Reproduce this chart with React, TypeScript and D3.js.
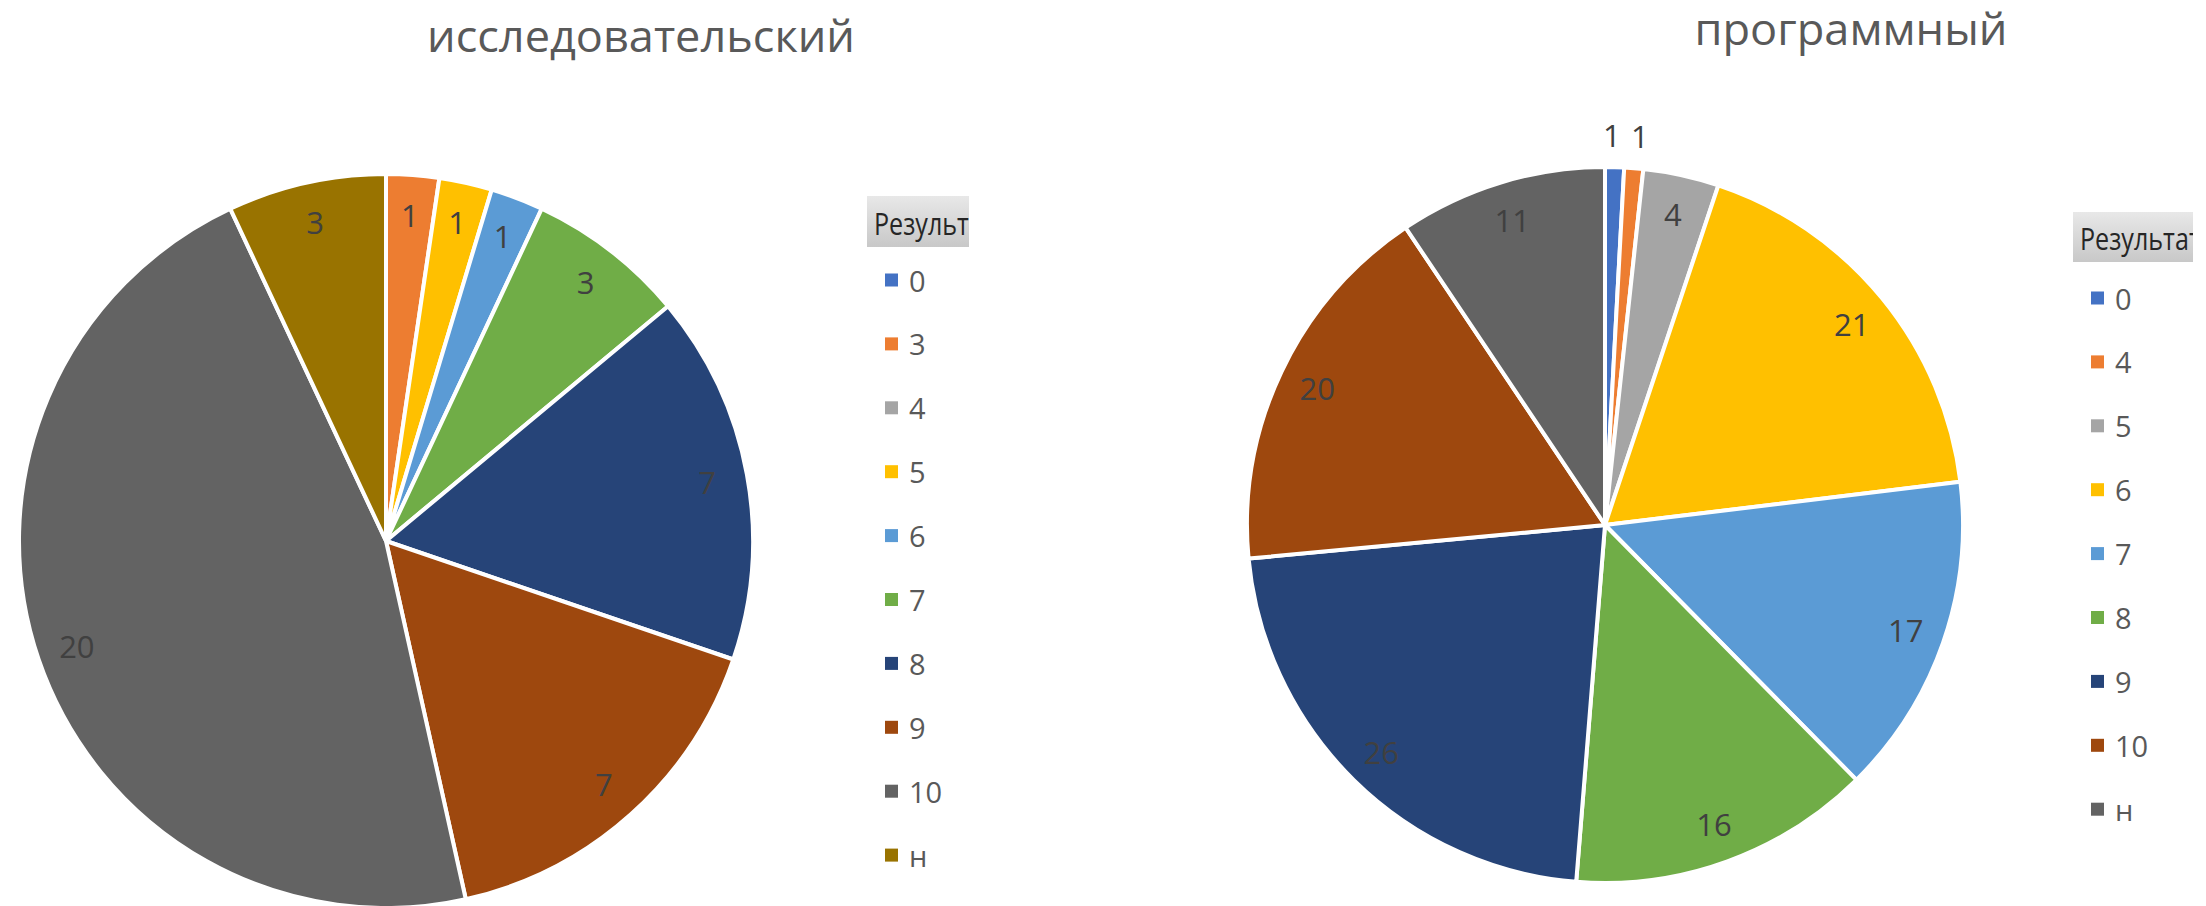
import React from "react";
import * as d3 from "d3";

const officeColors = ["#4472C4", "#ED7D31", "#A5A5A5", "#FFC000", "#5B9BD5", "#70AD47", "#264478", "#9E480E", "#636363", "#997300"];

const leftTitle = "исследовательский";
const leftCategories = ["0", "3", "4", "5", "6", "7", "8", "9", "10", "н"];
const leftValues = [0, 1, 0, 1, 1, 3, 7, 7, 20, 3];

const rightTitle = "программный";
const rightCategories = ["0", "4", "5", "6", "7", "8", "9", "10", "н"];
const rightValues = [1, 1, 4, 21, 17, 16, 26, 20, 11];

const legendHeader = "Результаты";

const FONT = "'Open Sans', 'Noto Sans', sans-serif";

type PieProps = {
  id: string;
  title: string;
  categories: string[];
  values: number[];
  cx: number;
  cy: number;
  r: number;
  titleX: number;
  titleY: number;
  titleW: number;
  legendX: number;
  legendY0: number;
  legendStep: number;
  headerX: number;
  headerY: number;
  headerW: number;
  headerH: number;
};

function PieChart(p: PieProps) {
  const data = p.categories.map((c, i) => ({ cat: c, value: p.values[i], color: officeColors[i] }));
  const pie = d3.pie<any>().sort(null).value((d: any) => d.value);
  const arcs = pie(data).filter((a) => a.data.value > 0);
  const arcGen = d3.arc<any>().innerRadius(0).outerRadius(p.r);
  const inside = d3.arc<any>().innerRadius(p.r * 0.89).outerRadius(p.r * 0.89);
  const outside = d3.arc<any>().innerRadius(p.r * 1.09).outerRadius(p.r * 1.09);

  // label positions, with outside labels pushed apart horizontally
  const labels = arcs.map((a) => {
    const small = a.endAngle - a.startAngle < 0.1;
    const [x, y] = (small ? outside : inside).centroid(a);
    return { x, y, small, value: a.data.value };
  });
  const minGap = 28;
  for (let i = 1; i < labels.length; i++) {
    const a = labels[i - 1];
    const b = labels[i];
    if (a.small && b.small && b.x - a.x < minGap) {
      const mid = (a.x + b.x) / 2;
      a.x = mid - minGap / 2;
      b.x = mid + minGap / 2;
    }
  }

  const clipId = `clip-${p.id}`;
  const gradId = `grad-${p.id}`;
  return (
    <g>
      <defs>
        <linearGradient id={gradId} x1="0" y1="0" x2="0" y2="1">
          <stop offset="0%" stopColor="#e8e8e8" />
          <stop offset="100%" stopColor="#c8c8c8" />
        </linearGradient>
        <clipPath id={clipId}>
          <rect x={p.headerX} y={p.headerY} width={p.headerW} height={p.headerH} />
        </clipPath>
      </defs>
      <text
        x={p.titleX}
        y={p.titleY}
        textAnchor="middle"
        fontFamily={FONT}
        fontSize={44}
        fill="#595959"
        textLength={p.titleW}
        lengthAdjust="spacingAndGlyphs"
      >
        {p.title}
      </text>
      <g transform={`translate(${p.cx},${p.cy})`}>
        {arcs.map((a, i) => (
          <path key={i} d={arcGen(a) as string} fill={a.data.color} stroke="#ffffff" strokeWidth={4} strokeLinejoin="round" />
        ))}
        {labels.map((l, i) => (
          <text
            key={i}
            x={l.x}
            y={l.y}
            textAnchor="middle"
            dominantBaseline="central"
            fontFamily={FONT}
            fontSize={31}
            fill="#404040"
          >
            {l.value}
          </text>
        ))}
      </g>
      <g>
        <rect x={p.headerX} y={p.headerY} width={p.headerW} height={p.headerH} fill={`url(#${gradId})`} />
        <g clipPath={`url(#${clipId})`}>
          <text
            x={p.headerX + 7}
            y={p.headerY + p.headerH - 12}
            fontFamily={FONT}
            fontSize={31}
            fill="#262626"
            textLength={140}
            lengthAdjust="spacingAndGlyphs"
          >
            {legendHeader}
          </text>
        </g>
        {data.map((d, i) => {
          const y = p.legendY0 + i * p.legendStep;
          return (
            <g key={i}>
              <rect x={p.legendX} y={y - 6.5} width={13} height={13} fill={d.color} />
              <text x={p.legendX + 24} y={y} dominantBaseline="central" fontFamily={FONT} fontSize={29} fill="#595959">
                {d.cat}
              </text>
            </g>
          );
        })}
      </g>
    </g>
  );
}

export default function App() {
  return (
    <svg
      width={2206}
      height={906}
      viewBox="0 0 2206 906"
      style={{ position: "absolute", left: 0, top: 0, background: "#ffffff" }}
    >
      <rect x={0} y={0} width={2206} height={906} fill="#ffffff" />
      <PieChart
        id="left"
        title={leftTitle}
        categories={leftCategories}
        values={leftValues}
        cx={386}
        cy={541}
        r={367}
        titleX={641}
        titleY={52}
        titleW={428}
        legendX={885}
        legendY0={280}
        legendStep={63.9}
        headerX={867}
        headerY={196}
        headerW={102}
        headerH={51}
      />
      <PieChart
        id="right"
        title={rightTitle}
        categories={rightCategories}
        values={rightValues}
        cx={1605}
        cy={525}
        r={358}
        titleX={1851}
        titleY={45}
        titleW={313}
        legendX={2091}
        legendY0={298}
        legendStep={63.9}
        headerX={2073}
        headerY={212}
        headerW={120}
        headerH={50}
      />
    </svg>
  );
}
